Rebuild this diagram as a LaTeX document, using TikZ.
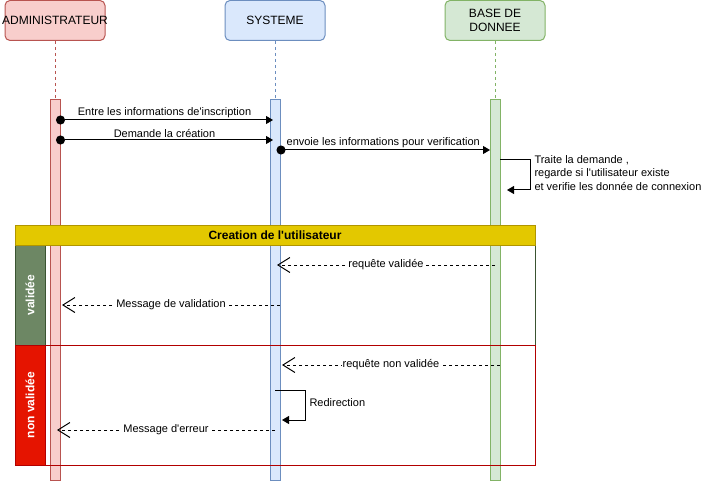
\documentclass[tikz,border=0pt]{standalone}
\usepackage{fontspec}
\setmainfont{Liberation Sans}
\usetikzlibrary{arrows.meta}
\definecolor{adminfill}{HTML}{F8CECC}
\definecolor{adminline}{HTML}{B85450}
\definecolor{sysfill}{HTML}{DAE8FC}
\definecolor{sysline}{HTML}{6C8EBF}
\definecolor{dbfill}{HTML}{D5E8D4}
\definecolor{dbline}{HTML}{82B366}
\definecolor{framefill}{HTML}{E3C800}
\definecolor{frameline}{HTML}{B09500}
\definecolor{okfill}{HTML}{6D8764}
\definecolor{okline}{HTML}{3A5431}
\definecolor{kofill}{HTML}{E51400}
\definecolor{koline}{HTML}{B20000}
\begin{document}
\begin{tikzpicture}[x=1pt,y=-1pt,line width=1pt]
            \tikzstyle{actor}=[rectangle, rounded corners=5pt, minimum width=100pt, minimum height=40pt, inner sep=0pt]
            \tikzstyle{actortext}=[font=\fontsize{12}{14}\selectfont, align=center, inner sep=0pt]
            \tikzstyle{bar}=[rectangle, minimum width=10pt, minimum height=380pt, inner sep=0pt]
            \tikzstyle{lifeline}=[dash pattern=on 3pt off 3pt]
            \tikzstyle{zone}=[rectangle, minimum width=520pt, inner sep=0pt]
            \tikzstyle{side}=[rectangle, minimum height=30pt, inner sep=0pt, rotate=90, text=white, font=\bfseries\fontsize{12}{14}\selectfont]
            \tikzstyle{msgtext}=[font=\fontsize{11}{13.5}\selectfont, inner sep=1pt]
            \tikzstyle{call}=[-{Triangle[length=7pt,width=8pt]}]
            \tikzstyle{dotcall}=[{Circle[length=9pt]}-{Triangle[length=7pt,width=8pt]}]
            \tikzstyle{reply}=[dash pattern=on 3pt off 3pt, -{Straight Barb[length=12pt,width=15pt]}]
            \useasboundingbox (0,0) rectangle (701,481);
            \node[actor, fill=adminfill, draw=adminline, label={[actortext]center:ADMINISTRATEUR}] (admin) at (55,20.5) {};
            \node[actor, fill=sysfill, draw=sysline, label={[actortext]center:SYSTEME}] (sys) at (275,20.5) {};
            \node[actor, fill=dbfill, draw=dbline, label={[actortext]center:BASE DE\\DONNEE}] (db) at (495,20.5) {};
            \node[bar, fill=adminfill, draw=adminline] (adminbar) at (55,290) {};
            \node[bar, fill=sysfill, draw=sysline] (sysbar) at (275,290) {};
            \node[bar, fill=dbfill, draw=dbline] (dbbar) at (495,290) {};
            \draw[lifeline, draw=adminline] (admin) -- (adminbar);
            \draw[lifeline, draw=sysline] (sys) -- (sysbar);
            \draw[lifeline, draw=dbline] (db) -- (dbbar);
            \node[zone, draw=okline, minimum height=100pt] (okzone) at (275,295) {};
            \node[side, fill=okfill, draw=okline, minimum width=100pt] (oklabel) at (30,295) {validée};
            \node[zone, draw=koline, minimum height=120pt] (kozone) at (275,405) {};
            \node[side, fill=kofill, draw=koline, minimum width=120pt] (kolabel) at (30,405) {non validée};
            \node[zone, fill=framefill, draw=frameline, minimum height=20pt, font=\bfseries\fontsize{12}{14}\selectfont] (frame) at (275,235) {Creation de l\textquotesingle utilisateur};
            \coordinate (m1a) at (56,120);
            \coordinate (m1b) at (273,120);
            \coordinate (m2a) at (56,140);
            \coordinate (m2b) at (273,140);
            \coordinate (m3a) at (276.5,150);
            \coordinate (m3b) at (490,150);
            \coordinate (s1a) at (500,160);
            \coordinate (s1b) at (507,190);
            \coordinate (r1a) at (495,265);
            \coordinate (r1b) at (277,265);
            \coordinate (r2a) at (280,305);
            \coordinate (r2b) at (62,305);
            \coordinate (r3a) at (500,365);
            \coordinate (r3b) at (282,365);
            \coordinate (s2a) at (275,390);
            \coordinate (s2b) at (282,420);
            \coordinate (r4a) at (275,430);
            \coordinate (r4b) at (57,430);
            \draw[dotcall] (m1a) -- node[msgtext, above=0.5pt] {Entre les informations de\textquotesingle inscription} (m1b);
            \draw[dotcall] (m2a) -- node[msgtext, above=0.5pt] {Demande la création} (m2b);
            \draw[dotcall] (m3a) -- node[msgtext, above=0.5pt] {envoie les informations pour verification} (m3b);
            \draw[call] (s1a) -- ++(30,0) |- (s1b);
            \node[msgtext, inner sep=0pt, anchor=north west, align=left] (traite) at (534,155) {Traite la demande ,\\regarde si l\textquotesingle utilisateur existe\\et verifie les donnée de connexion};
            \draw[reply] (r1a) -- node[msgtext, fill=white] {requête validée} (r1b);
            \draw[reply] (r2a) -- node[msgtext, fill=white] {Message de validation} (r2b);
            \draw[reply] (r3a) -- node[msgtext, fill=white] {requête non validée} (r3b);
            \draw[call] (s2a) -- ++(30,0) |- (s2b);
            \node[msgtext, anchor=west] (redir) at (308,402.5) {Redirection};
            \draw[reply] (r4a) -- node[msgtext, fill=white] {Message d\textquotesingle erreur} (r4b);
\end{tikzpicture}
\end{document}
